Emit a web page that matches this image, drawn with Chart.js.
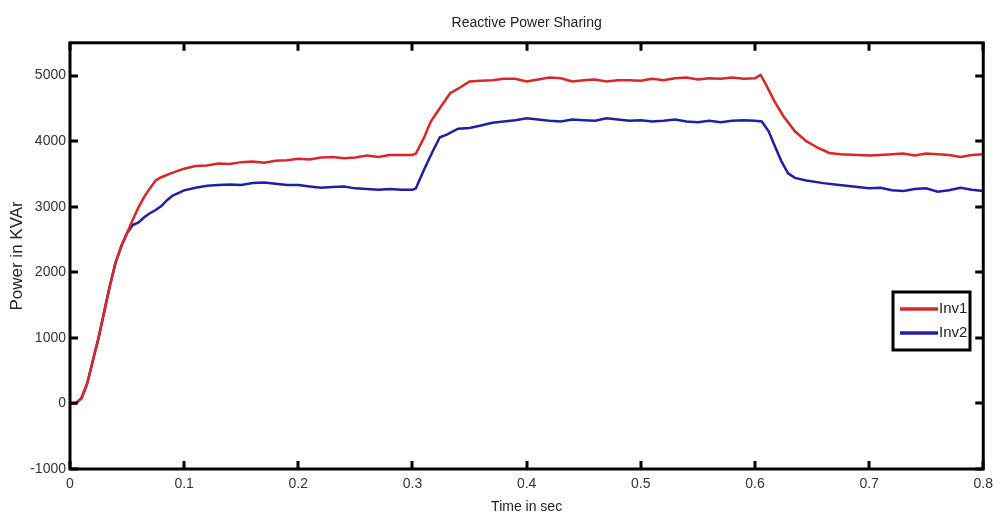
<!DOCTYPE html>
<html>
<head>
<meta charset="utf-8">
<script src="https://cdn.jsdelivr.net/npm/chart.js@4.4.1/dist/chart.umd.min.js"></script>
<style>
  html, body { margin: 0; padding: 0; background: #fff; }
  #wrap { width: 1000px; height: 517px; }
</style>
</head>
<body>
<div id="wrap"><canvas id="canvas"></canvas></div>
<script>
// time (s) and reactive power (kVAr)
const tInv1 = [0, 0.005, 0.01, 0.015, 0.02, 0.025, 0.03, 0.035, 0.04, 0.045, 0.05, 0.055, 0.06, 0.065, 0.07, 0.075, 0.08, 0.09,
  0.1, 0.11, 0.12, 0.13, 0.14, 0.15, 0.16, 0.17, 0.18, 0.19, 0.2, 0.21, 0.22, 0.23, 0.24, 0.25, 0.26, 0.27, 0.28, 0.29, 0.3,
  0.303, 0.31, 0.316, 0.323, 0.333, 0.34, 0.35, 0.36, 0.37, 0.38, 0.39, 0.4, 0.41, 0.42, 0.43, 0.44, 0.45, 0.46, 0.47, 0.48,
  0.49, 0.5, 0.51, 0.52, 0.53, 0.54, 0.55, 0.56, 0.57, 0.58, 0.59, 0.6, 0.605, 0.61, 0.617, 0.625, 0.635, 0.645, 0.655, 0.665,
  0.675, 0.69, 0.7, 0.71, 0.72, 0.73, 0.74, 0.75, 0.76, 0.77, 0.78, 0.79, 0.8];
const inv1 = [0, 0, 80, 300, 650, 1000, 1400, 1800, 2150, 2400, 2600, 2800, 2990, 3150, 3280, 3400, 3450, 3520,
  3580, 3620, 3630, 3660, 3650, 3680, 3690, 3670, 3700, 3710, 3730, 3720, 3750, 3760, 3740, 3750, 3780, 3760, 3790, 3790, 3790,
  3810, 4050, 4300, 4480, 4730, 4800, 4910, 4920, 4930, 4950, 4950, 4910, 4940, 4970, 4960, 4910, 4930, 4940, 4910, 4930,
  4930, 4920, 4950, 4930, 4960, 4970, 4940, 4960, 4950, 4970, 4950, 4960, 5010, 4850, 4610, 4380, 4150, 4000, 3900, 3820,
  3800, 3790, 3780, 3790, 3800, 3810, 3780, 3810, 3800, 3790, 3760, 3790, 3800];

const tInv2 = [0, 0.005, 0.01, 0.015, 0.02, 0.025, 0.03, 0.035, 0.04, 0.045, 0.05, 0.055, 0.06, 0.065, 0.07, 0.075, 0.08, 0.085, 0.09,
  0.1, 0.11, 0.12, 0.13, 0.14, 0.15, 0.16, 0.17, 0.18, 0.19, 0.2, 0.21, 0.22, 0.23, 0.24, 0.25, 0.26, 0.27, 0.28, 0.29, 0.3,
  0.303, 0.31, 0.317, 0.324, 0.33, 0.34, 0.35, 0.36, 0.37, 0.38, 0.39, 0.4, 0.41, 0.42, 0.43, 0.44, 0.45, 0.46, 0.47, 0.48,
  0.49, 0.5, 0.51, 0.52, 0.53, 0.54, 0.55, 0.56, 0.57, 0.58, 0.59, 0.6, 0.606, 0.612, 0.617, 0.623, 0.629, 0.635, 0.645, 0.66,
  0.67, 0.68, 0.69, 0.7, 0.71, 0.72, 0.73, 0.74, 0.75, 0.76, 0.77, 0.78, 0.79, 0.8];
const inv2 = [0, 0, 80, 300, 650, 1000, 1400, 1800, 2150, 2400, 2600, 2720, 2760, 2840, 2900, 2950, 3010, 3100, 3170,
  3250, 3290, 3320, 3330, 3340, 3330, 3360, 3370, 3350, 3330, 3330, 3310, 3290, 3300, 3310, 3280, 3270, 3260, 3270, 3260, 3260,
  3280, 3560, 3820, 4060, 4100, 4190, 4200, 4240, 4280, 4300, 4320, 4350, 4330, 4310, 4300, 4330, 4320, 4310, 4350, 4330,
  4310, 4320, 4300, 4310, 4330, 4300, 4290, 4310, 4290, 4310, 4320, 4310, 4300, 4150, 3940, 3700, 3510, 3440, 3400, 3360,
  3340, 3320, 3300, 3280, 3290, 3250, 3240, 3270, 3280, 3230, 3250, 3290, 3260, 3240];

const xTicks = [0, 0.1, 0.2, 0.3, 0.4, 0.5, 0.6, 0.7, 0.8];
const yTicks = [-1000, 0, 1000, 2000, 3000, 4000, 5000];
const seriesNames = ['Inv1', 'Inv2'];
const seriesColors = ['#d8262a', '#1f1fa6'];

const FONT = '"Liberation Sans", Arial, sans-serif';

function pts(t, v) { return t.map((x, i) => ({ x: x, y: v[i] })); }

// MATLAB-ish frame with inward ticks, plus boxed legend
const frame = {
  id: 'frame',
  afterDatasetsDraw(chart) {
    const { ctx, chartArea: a, scales } = chart;
    const len = 8;
    ctx.save();
    ctx.strokeStyle = '#000';
    ctx.lineWidth = 3;
    ctx.beginPath();
    xTicks.forEach(v => {
      const px = Math.round(scales.x.getPixelForValue(v));
      ctx.moveTo(px, a.bottom); ctx.lineTo(px, a.bottom - len);
      ctx.moveTo(px, a.top); ctx.lineTo(px, a.top + len);
    });
    yTicks.forEach(v => {
      const py = Math.round(scales.y.getPixelForValue(v));
      ctx.moveTo(a.left, py); ctx.lineTo(a.left + len, py);
      ctx.moveTo(a.right, py); ctx.lineTo(a.right - len, py);
    });
    ctx.stroke();
    ctx.strokeRect(a.left, a.top, a.right - a.left, a.bottom - a.top);

    // legend box
    const lx = 893, ly = 292, lw = 77, lh = 58;
    ctx.fillStyle = '#fff';
    ctx.fillRect(lx, ly, lw, lh);
    ctx.strokeRect(lx, ly, lw, lh);
    ctx.font = '15px ' + FONT;
    ctx.textBaseline = 'middle';
    seriesNames.forEach((n, i) => {
      const yy = ly + 17 + i * 24;
      ctx.strokeStyle = seriesColors[i];
      ctx.lineWidth = 3.5;
      ctx.beginPath();
      ctx.moveTo(lx + 7, yy); ctx.lineTo(lx + 45, yy);
      ctx.stroke();
      ctx.fillStyle = '#222';
      ctx.fillText(n, lx + 46, yy);
    });
    ctx.restore();
  }
};

new Chart(document.getElementById('canvas'), {
  type: 'scatter',
  data: {
    datasets: [
      { label: seriesNames[0], data: pts(tInv1, inv1), showLine: true, borderColor: seriesColors[0], borderWidth: 2.5, pointRadius: 0, tension: 0 },
      { label: seriesNames[1], data: pts(tInv2, inv2), showLine: true, borderColor: seriesColors[1], borderWidth: 2.5, pointRadius: 0, tension: 0 }
    ]
  },
  options: {
    responsive: true,
    maintainAspectRatio: false,
    animation: false,
    layout: { padding: { left: 0, right: 10, top: 0, bottom: 0 } },
    plugins: {
      legend: { display: false },
      tooltip: { enabled: false },
      title: {
        display: true,
        text: 'Reactive Power Sharing',
        fullSize: false,
        color: '#222',
        font: { family: FONT, size: 14, weight: 'normal' },
        padding: { top: 15, bottom: 11 }
      }
    },
    scales: {
      x: {
        type: 'linear',
        min: 0, max: 0.8,
        afterBuildTicks: s => { s.ticks = xTicks.map(v => ({ value: v })); },
        afterFit: s => { s.height = 48; },
        grid: { display: false, drawTicks: false },
        border: { display: false },
        ticks: { color: '#333', padding: 7, font: { family: FONT, size: 14 }, maxRotation: 0, callback: v => String(v) },
        title: { display: true, text: 'Time in sec', color: '#222', font: { family: FONT, size: 14 }, padding: { top: 0, bottom: 1 } }
      },
      y: {
        type: 'linear',
        min: -1000, max: 5500,
        afterBuildTicks: s => { s.ticks = yTicks.map(v => ({ value: v })); },
        afterFit: s => { s.width = 70; },
        grid: { display: false, drawTicks: false },
        border: { display: false },
        ticks: { color: '#333', padding: 4, font: { family: FONT, size: 14 }, callback: v => String(v) },
        title: { display: true, text: 'Power in KVAr', color: '#222', font: { family: FONT, size: 17 }, padding: { top: 7, bottom: 0 } }
      }
    }
  },
  plugins: [frame]
});
</script>
</body>
</html>
